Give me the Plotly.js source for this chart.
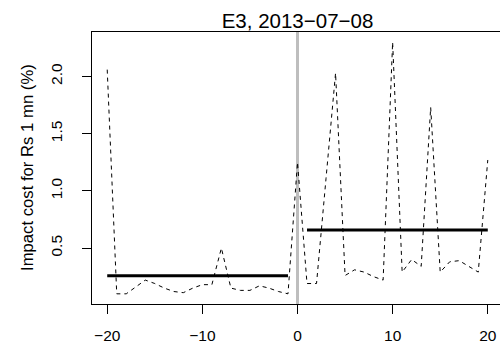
<!DOCTYPE html>
<html>
<head>
<meta charset="utf-8">
<script src="https://cdn.plot.ly/plotly-3.0.1.min.js"></script>
<style>
html,body{margin:0;padding:0;overflow:hidden;background:#fff;width:500px;height:344px;}
#chart{width:503px;height:344px;}
</style>
</head>
<body>
<div id="chart"></div>
<script>
// Event window (days relative to event)
const days = [-20,-19,-18,-17,-16,-15,-14,-13,-12,-11,-10,-9,-8,-7,-6,-5,-4,-3,-2,-1,0,1,2,3,4,5,6,7,8,9,10,11,12,13,14,15,16,17,18,19,20];
// Daily impact cost (%) for Rs 1 mn
const impactCost = [2.06,0.10,0.10,0.16,0.22,0.19,0.15,0.12,0.11,0.15,0.18,0.18,0.50,0.15,0.13,0.13,0.17,0.15,0.12,0.10,1.25,0.19,0.19,1.11,2.03,0.26,0.31,0.29,0.25,0.22,2.30,0.29,0.40,0.34,1.73,0.29,0.38,0.39,0.34,0.29,1.27];
// Pre / post event mean levels
const preX = [-20,-1];
const preMean = [0.258,0.258];
const postX = [1,20];
const postMean = [0.657,0.657];
const eventX = [0,0];
const eventY = [0.011,2.389];
const xTicks = [-20,-10,0,10,20];
const yTicks = [0.5,1.0,1.5,2.0];
const titleText = "E3, 2013\u221207\u221208";
const yTitle = "Impact cost for Rs 1 mn (%)";

const font = "Liberation Sans, Arial, Helvetica, sans-serif";

const traces = [
  {x: eventX, y: eventY, mode:'lines', line:{color:'#bebebe', width:3}, hoverinfo:'skip'},
  {x: days, y: impactCost, mode:'lines', line:{color:'#000', width:1, dash:'4px,4px'}},
  {x: preX, y: preMean, mode:'lines', line:{color:'#000', width:3}},
  {x: postX, y: postMean, mode:'lines', line:{color:'#000', width:3}}
];

const layout = {
  width: 503, height: 344,
  margin: {l:92, r:0, t:32, b:40},
  paper_bgcolor:'#fff', plot_bgcolor:'#fff',
  showlegend:false,
  font:{family:font, color:'#000', size:15.5},
  title:{text:titleText, font:{family:font, size:20.5, color:'#000'}, x:0.5, xref:'paper', y:1-21/344, yref:'container', yanchor:'middle', xanchor:'center'},
  xaxis:{range:[-21.6,21.6], tickvals:xTicks, ticktext:xTicks.map(v=>v<0?'\u2212'+Math.abs(v):String(v)),
    showgrid:false, zeroline:false, showline:true, mirror:true, linecolor:'#000', linewidth:1,
    ticks:'outside', ticklen:9, tickcolor:'#000', ticklabelstandoff:8, tickfont:{size:15.5, family:font}},
  yaxis:{range:[0.011,2.389], tickvals:yTicks, ticktext:yTicks.map(v=>v.toFixed(1)), tickangle:-90,
    showgrid:false, zeroline:false, showline:true, mirror:true, linecolor:'#000', linewidth:1,
    ticks:'outside', ticklen:9, tickcolor:'#000', ticklabelstandoff:14, tickfont:{size:15.5, family:font}},
  annotations:[{text:yTitle, xref:'paper', yref:'paper', x:(27-92)/411, y:0.5, showarrow:false, textangle:-90,
    xanchor:'center', yanchor:'middle', font:{family:font, size:16.7, color:'#000'}}]
};

Plotly.newPlot('chart', traces, layout, {displayModeBar:false, staticPlot:true});
</script>
</body>
</html>
